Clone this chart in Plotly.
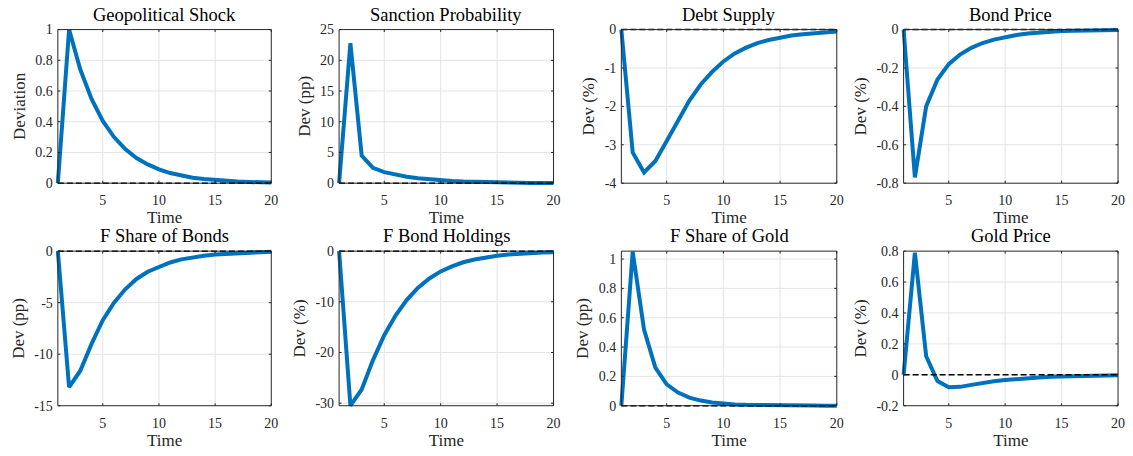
import plotly.graph_objects as go

t = list(range(1, 21))

titles = ["Geopolitical Shock", "Sanction Probability", "Debt Supply", "Bond Price",
          "F Share of Bonds", "F Bond Holdings", "F Share of Gold", "Gold Price"]
ylabels = ["Deviation", "Dev (pp)", "Dev (%)", "Dev (%)",
           "Dev (pp)", "Dev (%)", "Dev (pp)", "Dev (%)"]

geo_shock = [0, 1.0, 0.74, 0.548, 0.405, 0.300, 0.222, 0.164, 0.122, 0.090, 0.066,
             0.049, 0.036, 0.027, 0.020, 0.015, 0.011, 0.008, 0.006, 0.004]
sanction_prob = [0, 22.8, 4.5, 2.5, 1.8, 1.35, 1.05, 0.8, 0.62, 0.47, 0.36,
                 0.27, 0.2, 0.15, 0.11, 0.08, 0.06, 0.05, 0.04, 0.03]
debt_supply = [0, -3.2, -3.72, -3.42, -2.9, -2.35, -1.85, -1.43, -1.1, -0.83, -0.62,
               -0.47, -0.35, -0.27, -0.2, -0.155, -0.12, -0.09, -0.07, -0.05]
bond_price = [0, -0.77, -0.40, -0.26, -0.18, -0.13, -0.095, -0.07, -0.052, -0.038, -0.028,
              -0.02, -0.015, -0.011, -0.008, -0.006, -0.004, -0.003, -0.002, -0.0015]
f_share_bonds = [0, -13.2, -11.6, -9.0, -6.7, -5.0, -3.7, -2.7, -2.0, -1.5, -1.1,
                 -0.8, -0.6, -0.45, -0.33, -0.25, -0.18, -0.13, -0.1, -0.07]
f_bond_holdings = [0, -30.5, -27.3, -21.5, -16.6, -12.7, -9.6, -7.2, -5.4, -4.0, -3.0,
                   -2.2, -1.65, -1.2, -0.9, -0.67, -0.5, -0.37, -0.27, -0.2]
f_share_gold = [0, 1.05, 0.52, 0.26, 0.145, 0.09, 0.055, 0.035, 0.022, 0.014, 0.009,
                0.006, 0.004, 0.003, 0.002, 0.0015, 0.001, 0.0008, 0.0006, 0.0005]
gold_price = [0, 0.79, 0.12, -0.04, -0.08, -0.078, -0.065, -0.052, -0.042, -0.034, -0.027,
              -0.021, -0.017, -0.013, -0.01, -0.008, -0.006, -0.005, -0.004, -0.003]

series = [geo_shock, sanction_prob, debt_supply, bond_price,
          f_share_bonds, f_bond_holdings, f_share_gold, gold_price]

xrange_ = [1, 20]
yranges = [[0, 1], [0, 25], [-4, 0], [-0.8, 0],
           [-15, 0], [-30.5, 0], [0, 1.054], [-0.2, 0.8]]
ytickvals = [[0, 0.2, 0.4, 0.6, 0.8, 1], [0, 5, 10, 15, 20, 25], [-4, -3, -2, -1, 0],
             [-0.8, -0.6, -0.4, -0.2, 0], [-15, -10, -5, 0], [-30, -20, -10, 0],
             [0, 0.2, 0.4, 0.6, 0.8, 1], [-0.2, 0, 0.2, 0.4, 0.6, 0.8]]
yticktext = [["0", "0.2", "0.4", "0.6", "0.8", "1"], ["0", "5", "10", "15", "20", "25"],
             ["-4", "-3", "-2", "-1", "0"], ["-0.8", "-0.6", "-0.4", "-0.2", "0"],
             ["-15", "-10", "-5", "0"], ["-30", "-20", "-10", "0"],
             ["0", "0.2", "0.4", "0.6", "0.8", "1"], ["-0.2", "0", "0.2", "0.4", "0.6", "0.8"]]
xtickvals = [5, 10, 15, 20]

W, H = 1133, 456
xdom_px = [(58, 272), (340, 555), (623, 839), (906, 1121)]
ydom_px = [(27, 183), (252, 409)]
PAD = 4      # extra plotting room (px) so thick lines are not clipped at the frame
TICK = 2.5   # tick length (px)

FONT = "Liberation Serif"
AX = "#262626"
GRID = "#e4e4e4"

fig = go.Figure()
layout = dict(width=W, height=H, margin=dict(l=0, r=0, t=0, b=0),
              paper_bgcolor="white", plot_bgcolor="rgba(0,0,0,0)", showlegend=False,
              font=dict(family=FONT, color=AX))
annotations = []
shapes = []

for i in range(8):
    r, c = divmod(i, 4)
    n = "" if i == 0 else str(i + 1)
    xa, ya = "x" + n, "y" + n
    x0, x1 = xdom_px[c]
    y0, y1 = ydom_px[r]
    wpx, hpx = x1 - x0, y1 - y0
    lo, hi = yranges[i]
    dx = PAD * (xrange_[1] - xrange_[0]) / wpx
    dy = PAD * (hi - lo) / hpx
    fx = PAD / (wpx + 2 * PAD)
    fy = PAD / (hpx + 2 * PAD)

    fig.add_trace(go.Scatter(x=t, y=series[i], mode="lines",
                             line=dict(color="#0072BD", width=4),
                             xaxis=xa, yaxis=ya, hoverinfo="skip"))
    fig.add_trace(go.Scatter(x=[t[0], t[-1]], y=[0, 0], mode="lines",
                             line=dict(color="black", width=1.5, dash="6px,3px"),
                             xaxis=xa, yaxis=ya, hoverinfo="skip"))

    common = dict(showline=False, ticks="", showgrid=False, zeroline=False,
                  tickfont=dict(family=FONT, size=14, color=AX))
    layout["xaxis" + n] = dict(common, domain=[(x0 - PAD) / W, (x1 + PAD) / W],
                               range=[xrange_[0] - dx, xrange_[1] + dx],
                               tickvals=xtickvals, anchor=ya, ticklabelstandoff=3,
                               title=dict(text="Time", font=dict(family=FONT, size=17, color=AX),
                                          standoff=3))
    layout["yaxis" + n] = dict(common, domain=[1 - (y1 + PAD) / H, 1 - (y0 - PAD) / H],
                               range=[lo - dy, hi + dy],
                               tickvals=ytickvals[i], ticktext=yticktext[i], anchor=xa,
                               ticklabelstandoff=0,
                               title=dict(text=ylabels[i], font=dict(family=FONT, size=17, color=AX),
                                          standoff=5))

    # grid lines (inside the frame only)
    for v in xtickvals:
        if v < xrange_[1]:
            shapes.append(dict(type="line", xref=xa, yref=ya + " domain", x0=v, x1=v,
                               y0=fy, y1=1 - fy, layer="below",
                               line=dict(color=GRID, width=1)))
    for v in ytickvals[i]:
        if lo < v < hi:
            shapes.append(dict(type="line", xref=xa + " domain", yref=ya, y0=v, y1=v,
                               x0=fx, x1=1 - fx, layer="below",
                               line=dict(color=GRID, width=1)))
    # tick marks (inside, on all four sides)
    tx = TICK / (wpx + 2 * PAD)
    ty = TICK / (hpx + 2 * PAD)
    for v in xtickvals:
        for (a, b) in [(fy, fy + ty), (1 - fy, 1 - fy - ty)]:
            shapes.append(dict(type="line", xref=xa, yref=ya + " domain", x0=v, x1=v,
                               y0=a, y1=b, layer="above", line=dict(color=AX, width=1)))
    for v in ytickvals[i]:
        for (a, b) in [(fx, fx + tx), (1 - fx, 1 - fx - tx)]:
            shapes.append(dict(type="line", xref=xa + " domain", yref=ya, y0=v, y1=v,
                               x0=a, x1=b, layer="above", line=dict(color=AX, width=1)))
    # box frame
    shapes.append(dict(type="rect", xref="paper", yref="paper",
                       x0=x0 / W, x1=x1 / W, y0=1 - y1 / H, y1=1 - y0 / H,
                       layer="above", line=dict(color=AX, width=1), fillcolor="rgba(0,0,0,0)"))

    annotations.append(dict(text=titles[i], x=(x0 + x1) / 2 / W, y=1 - (y0 - 3) / H,
                            xref="paper", yref="paper", xanchor="center", yanchor="bottom",
                            showarrow=False, font=dict(family=FONT, size=18.5, color="black")))

layout["annotations"] = annotations
layout["shapes"] = shapes
fig.update_layout(**layout)
fig.write_html("out.html")
